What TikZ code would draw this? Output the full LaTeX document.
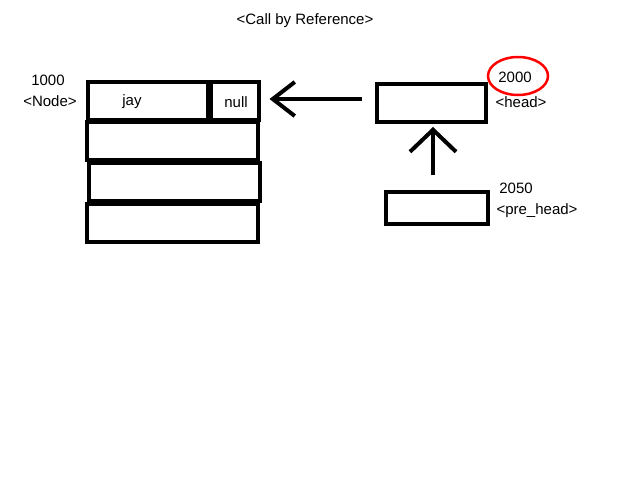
\documentclass[tikz,border=0pt]{standalone}
\usepackage{fontspec}
\setmainfont{Liberation Sans}
\usepackage{tikz}
\usetikzlibrary{arrows.meta}

\tikzset{
  cell/.style={draw,line width=4pt,minimum height=38pt,inner sep=0pt},
  lbl/.style={font=\fontsize{15}{18}\selectfont,inner sep=0pt},
  ptr/.style={line width=4pt,-{Straight Barb[length=22pt,width=34pt]}}
}

\begin{document}
\begin{tikzpicture}[x=1pt,y=-1pt]
\useasboundingbox (0,0) rectangle (640,480);

\node[lbl] (title) at (305,21) {<Call by Reference>};

\node[cell,minimum width=120pt] (data) at (148,101) {};
\node[cell,minimum width=48pt] (next) at (234.5,101) {};
\node[cell,minimum width=171pt] (row2) at (172.5,140.5) {};
\node[cell,minimum width=171pt] (row3) at (174,182) {};
\node[cell,minimum width=171pt] (row4) at (172.5,222.5) {};
\node[lbl] (jay) at (132,102) {jay};
\node[lbl] (null) at (236,102) {null};
\node[lbl] (naddr) at (48,80) {1000};
\node[lbl] (ntype) at (50,101) {<Node>};

\node[cell,minimum width=109pt,minimum height=38pt] (head) at (431.5,103) {};
\node[lbl] (haddr) at (515,77) {2000};
\node[lbl] (htype) at (521,102) {<head>};
\draw[red,line width=2.5pt] (518,76) ellipse [x radius=30pt,y radius=19pt];

\node[cell,minimum width=102pt,minimum height=32pt] (pre) at (437,208) {};
\node[lbl] (paddr) at (516,188) {2050};
\node[lbl] (ptype) at (537,211) {<pre\_head>};

\draw[ptr,shorten <=13pt,shorten >=9pt] ([yshift=4pt]head.west) -- ([yshift=4pt]head.west -| next.east);
\draw[ptr,-{Straight Barb[length=22pt,width=46pt]},shorten <=15pt,shorten >=3pt] ([xshift=-4pt]pre.north) -- ([xshift=-4pt]pre.north |- head.south);

\end{tikzpicture}
\end{document}
